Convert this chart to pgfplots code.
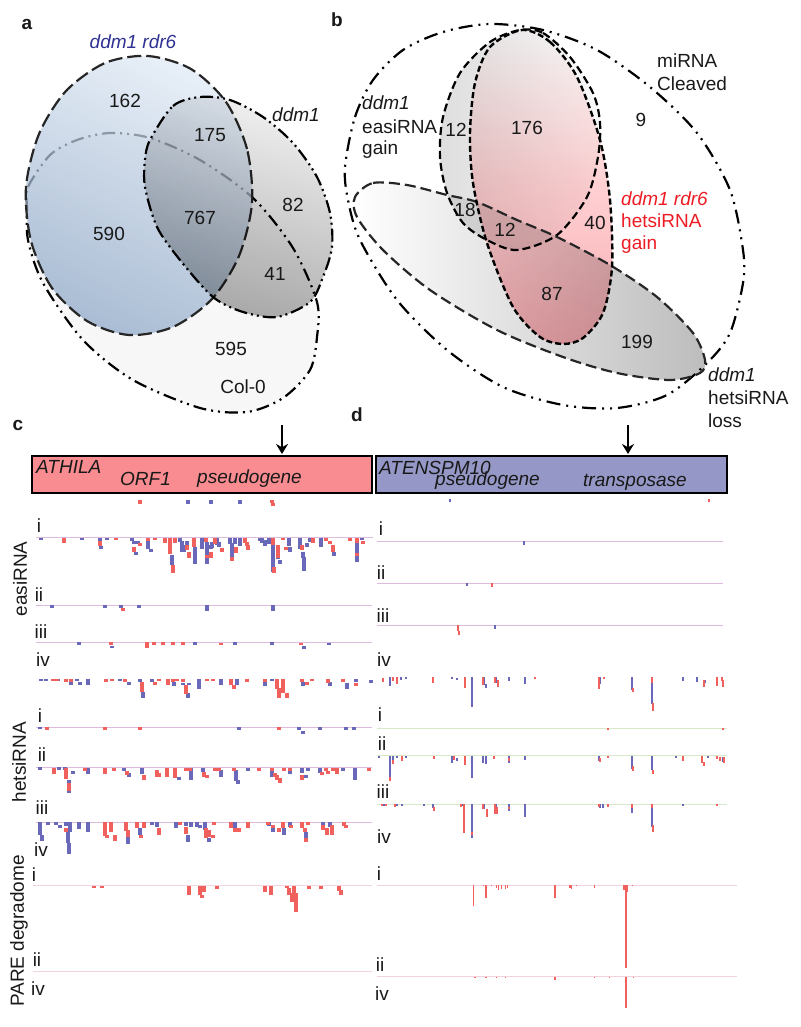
\documentclass[border=0pt]{standalone}
\usepackage{fontspec}
\setmainfont{Liberation Sans}
\usepackage{pgfplots}
\usepackage{pgfplotstable}
\pgfplotsset{compat=1.18}
\usetikzlibrary{arrows.meta}

\definecolor{rb}{HTML}{6A68B8}
\definecolor{rr}{HTML}{F0605C}
\definecolor{paleline}{HTML}{DDBBDD}
\definecolor{palegreen}{HTML}{D8E8C8}
\definecolor{palepink}{HTML}{F2D4DE}

% outlines of the venn shapes, in pixels of the figure
\pgfplotstableread{
x y
252 203
247 149
226 102
191 69
148 56
105 63
66 91
39 134
26 187
31 241
52 288
87 321
129 335
173 327
212 299
239 256
}\ellblue
\pgfplotstableread{
x y
150 140
173 106
200 97
230 100
263 117
293 143
317 177
330 213
332 247
323 277
310 302
277 317
243 312
213 297
180 260
157 227
145 187
145 160
}\ellgray
\pgfplotstableread{
x y
27 207
28 187
50 155
77 140
110 133
150 138
200 160
253 198
293 248
317 302
317 337
310 370
283 398
247 412
200 408
133 380
83 340
43 283
28 240
}\ellcol
\pgfplotstableread{
x y
345 167
355 117
373 80
403 50
443 32
490 24
543 30
597 50
650 87
697 133
730 190
743 250
743 283
730 333
707 363
667 395
617 408
563 405
503 387
447 350
397 300
360 240
348 200
}\ellmir
\pgfplotstableread{
x y
520 30
543 33
570 57
593 93
600 123
598 157
587 197
557 235
517 250
487 240
463 223
447 193
440 157
443 117
460 73
490 42
}\elleasi
\pgfplotstableread{
x y
522 30
550 42
577 77
600 140
610 200
612 267
603 313
583 338
563 344
540 337
513 307
487 243
473 183
470 133
475 83
490 47
}\ellhets
\pgfplotstableread{
x y
355 197
373 183
407 185
447 195
477 202
517 220
557 237
610 265
657 297
693 333
705 360
700 373
670 380
617 373
563 357
497 330
430 290
383 250
357 217
}\ellloss

% reads: colour, width, crop x, crop y, rows of x y length as read in a 3x crop
\newcommand{\reads}[5]{\addplot[draw=none, no markers, forget plot,
  error bars/.cd, y dir=plus, y explicit, error mark=none,
  error bar style={solid, line width=#2pt, draw=#1}]
  table[header=false, row sep=\\, x expr=#3+\thisrowno{0}/3, y expr=#4+\thisrowno{1}/3,
  y error expr=\thisrowno{2}/3]{#5};}
\newcommand{\track}[4]{\addplot[forget plot, color=#1, line width=0.9pt] coordinates {(#2,#4) (#3,#4)};}
\newcommand{\fs}{\fontsize{19}{22}\selectfont}

\begin{document}
\begin{tikzpicture}[every node/.style={font=\fs, text=black!90, inner sep=0pt}]
\begin{axis}[
  hide axis, x=1pt, y=1pt, y dir=reverse,
  xmin=0, xmax=800, ymin=0, ymax=1027,
  clip=false,
]

% panel a
\addplot[forget plot, smooth cycle, draw=none, fill=black!3] table {\ellcol};
\addplot[forget plot, smooth cycle, draw=black, line width=2.2pt,
  dash pattern=on 13pt off 5pt on 2pt off 5pt on 2pt off 5pt] table {\ellcol};
\addplot[forget plot, smooth cycle, draw=none, fill opacity=0.72,
  top color={rgb,255:red,222;green,232;blue,244}, bottom color={rgb,255:red,142;green,168;blue,200}, shading angle=-25] table {\ellblue};
\addplot[forget plot, smooth cycle, draw=black!85!white, line width=2.2pt, dash pattern=on 14pt off 5pt] table {\ellblue};
\addplot[forget plot, smooth cycle, draw=none, blend mode=multiply,
  top color=black!6, bottom color=black!32, shading angle=-15] table {\ellgray};
\addplot[forget plot, smooth cycle, draw=black, line width=2.2pt,
  dash pattern=on 13pt off 4pt on 2pt off 4pt on 2pt off 4pt] table {\ellgray};

\node[font=\fs\bfseries] at (axis cs:27,24) {a};
\node[font=\fs\itshape, text={rgb,255:red,46;green,49;blue,146}] at (axis cs:133,42) {ddm1 rdr6};
\node[font=\fs\itshape] at (axis cs:296,115) {ddm1};
\node at (axis cs:125,101) {162};
\node at (axis cs:210,135) {175};
\node at (axis cs:293,205) {82};
\node at (axis cs:200,218) {767};
\node at (axis cs:109,234) {590};
\node at (axis cs:275,274) {41};
\node at (axis cs:231,349) {595};
\node at (axis cs:243,387) {Col-0};

% panel b
\addplot[forget plot, smooth cycle, draw=black, line width=2.2pt,
  dash pattern=on 14pt off 6pt on 2pt off 6pt on 2pt off 6pt] table {\ellmir};
\addplot[forget plot, smooth cycle, draw=none, left color=black!13, right color=black!2] table {\elleasi};
\addplot[forget plot, smooth cycle, draw=black, line width=2.2pt, dash pattern=on 8pt off 4pt] table {\elleasi};
\addplot[forget plot, smooth cycle, draw=none, blend mode=multiply,
  left color=white, right color=black!26] table {\ellloss};
\addplot[forget plot, smooth cycle, draw=none, blend mode=multiply,
  top color=white, bottom color={rgb,255:red,248;green,172;blue,178},
  middle color={rgb,255:red,255;green,208;blue,210}] table {\ellhets};
\addplot[forget plot, smooth cycle, draw=black!85, line width=2.2pt, dash pattern=on 11pt off 5pt] table {\ellloss};
\addplot[forget plot, smooth cycle, draw=black, line width=2.4pt, dash pattern=on 6pt off 3pt] table {\ellhets};

\node[font=\fs\bfseries] at (axis cs:337,20) {b};
\node at (axis cs:527,128) {176};
\node at (axis cs:641,120) {9};
\node at (axis cs:456,130) {12};
\node at (axis cs:465,210) {18};
\node at (axis cs:505,230) {12};
\node at (axis cs:595,223) {40};
\node at (axis cs:552,294) {87};
\node at (axis cs:637,342) {199};
\node[anchor=west] at (axis cs:657,61) {miRNA};
\node[anchor=west] at (axis cs:657,84) {Cleaved};
\node[anchor=west, font=\fs\itshape] at (axis cs:362,103) {ddm1};
\node[anchor=west] at (axis cs:362,127) {easiRNA};
\node[anchor=west] at (axis cs:362,150) {gain};
\node[anchor=west, font=\fs\itshape, text={rgb,255:red,237;green,28;blue,36}] at (axis cs:621,199) {ddm1 rdr6};
\node[anchor=west, text={rgb,255:red,237;green,28;blue,36}] at (axis cs:621,221) {hetsiRNA};
\node[anchor=west, text={rgb,255:red,237;green,28;blue,36}] at (axis cs:621,245) {gain};
\node[anchor=west, font=\fs\itshape] at (axis cs:708,375) {ddm1};
\node[anchor=west] at (axis cs:708,398) {hetsiRNA};
\node[anchor=west] at (axis cs:708,421) {loss};

% gene boxes
\node[font=\fs\bfseries] at (axis cs:18,425) {c};
\node[font=\fs\bfseries] at (axis cs:357,415) {d};
\addplot[forget plot, draw=black, line width=2.6pt, fill={rgb,255:red,248;green,140;blue,144}]
  coordinates {(32,456) (372,456) (372,493) (32,493)} --cycle;
\addplot[forget plot, draw=black, line width=2.6pt, fill={rgb,255:red,149;green,152;blue,198}]
  coordinates {(376,456) (727,456) (727,493) (376,493)} --cycle;
\addplot[forget plot, draw=black, line width=2pt, -{Stealth[length=10pt,width=12pt]}] coordinates {(282,425) (282,454)};
\addplot[forget plot, draw=black, line width=2pt, -{Stealth[length=10pt,width=12pt]}] coordinates {(628,425) (628,454)};
\node[anchor=west, font=\fs\itshape] at (axis cs:36,467) {ATHILA};
\node[anchor=west, font=\fs\itshape] at (axis cs:120,479) {ORF1};
\node[anchor=west, font=\fs\itshape] at (axis cs:197,479) {pseudogene};
\node[anchor=west, font=\fs\itshape] at (axis cs:379,468) {ATENSPM10};
\node[anchor=west, font=\fs\itshape] at (axis cs:435,481) {pseudogene};
\node[anchor=west, font=\fs\itshape] at (axis cs:583,482) {transposase};

% baselines
\track{paleline}{36}{373}{537.7}
\track{paleline}{36}{372}{605.7}
\track{paleline}{36}{372}{642.3}
\track{paleline}{36}{372}{727.7}
\track{paleline}{36}{372}{767.7}
\track{paleline}{36}{372}{822.3}
\track{palepink}{33}{372}{885.7}
\track{palepink}{33}{372}{971.7}
\track{paleline}{377}{723}{541.7}
\track{paleline}{377}{723}{583.3}
\track{paleline}{377}{723}{625.3}
\track{palegreen}{377}{727}{728}
\track{palegreen}{377}{727}{755.7}
\track{palegreen}{377}{727}{804.3}
\track{palepink}{377}{737}{885}
\track{palepink}{377}{737}{976.7}

% panel c, easiRNA
\reads{rb}{3.7}{0}{430}{
565 211 10\\ 632 211 10\\ 719 211 10\\
124 323 8\\ 246 323 8\\ 299 323 10\\ 303 349 8\\ 320 323 8\\
395 323 10\\ 403 333 8\\ 409 366 9\\ 413 333 8\\ 444 332 26\\ 452 358 8\\
516 375 30\\ 539 323 12\\ 547 333 32\\ 553 345 22\\ 561 333 12\\
585 350 53\\ 607 323 35\\ 621 335 68\\ 632 345 12\\ 637 335 20\\ 650 323 22\\ 658 335 16\\
689 323 20\\ 697 340 45\\ 705 323 18\\ 719 323 25\\
779 323 10\\ 787 323 15\\ 795 330 18\\ 808 323 20\\ 819 345 82\\ 835 375 12\\ 841 390 12\\
866 323 25\\ 870 352 15\\ 901 323 35\\ 908 365 20\\ 912 380 42\\ 921 340 10\\ 931 323 12\\
963 323 28\\ 1003 365 12\\ 1072 340 55\\ 1086 323 8\\
157 525 8\\ 315 525 8\\ 362 525 8\\ 417 525 8\\ 621 525 18\\ 819 525 18\\
237 637 8\\ 337 647 8\\ 584 637 8\\ 704 637 8\\ 816 637 8\\ 913 648 8\\ 987 638 8\\
}
\reads{rr}{3.7}{0}{430}{
419 211 10\\ 815 211 9\\ 820 220 9\\
192 323 16\\ 299 333 16\\ 349 323 8\\ 403 350 15\\ 420 340 9\\ 444 323 9\\ 464 323 8\\
494 323 17\\ 510 323 50\\ 520 405 23\\ 525 323 17\\ 561 345 15\\ 568 365 20\\ 581 323 27\\
619 323 12\\ 621 375 10\\ 632 365 20\\ 646 323 18\\ 665 355 12\\ 697 380 14\\ 708 350 18\\
735 323 15\\ 740 335 12\\ 745 345 14\\ 819 323 22\\ 821 412 18\\ 835 345 40\\ 849 323 8\\ 858 350 10\\
905 345 15\\ 938 323 16\\ 979 323 9\\ 990 333 8\\ 1000 345 20\\ 1050 323 9\\ 1072 323 17\\ 1072 370 8\\ 1089 333 8\\
368 535 8\\
332 637 9\\ 442 637 17\\ 463 637 8\\ 489 637 8\\ 518 637 8\\ 548 637 8\\ 662 638 8\\ 902 638 8\\
}

% panel c, hetsiRNA
\reads{rb}{3.7}{0}{660}{
122 56 8\\ 138 56 8\\ 175 56 8\\ 212 65 10\\ 230 56 8\\ 241 67 8\\ 264 56 20\\ 360 56 8\\ 388 67 8\\
419 56 10\\ 428 95 20\\ 456 56 10\\ 521 65 12\\ 548 68 8\\ 566 68 8\\ 563 100 15\\ 597 56 30\\ 663 56 20\\
711 56 20\\ 796 65 12\\ 817 56 8\\ 908 65 12\\ 990 67 10\\ 1040 68 20\\ 1068 56 10\\ 1112 60 8\\
119 200 8\\ 716 202 9\\ 898 202 9\\ 908 212 9\\ 960 202 9\\ 1038 202 9\\ 1063 202 9\\
119 321 9\\ 177 321 9\\ 195 321 10\\ 207 360 12\\ 218 333 9\\ 207 390 10\\ 263 325 16\\ 373 323 9\\ 386 340 10\\
426 323 20\\ 526 323 20\\ 538 350 10\\ 574 323 38\\ 610 323 12\\ 664 330 22\\ 707 330 32\\ 714 360 12\\ 745 323 9\\
817 330 20\\ 869 333 9\\ 905 323 15\\ 918 345 9\\ 925 323 9\\ 960 323 15\\ 1030 323 9\\ 1065 323 38\\
119 487 38\\ 125 525 18\\ 144 487 8\\ 168 487 8\\ 180 495 8\\ 197 487 10\\ 211 487 28\\ 203 515 35\\ 208 550 32\\
238 487 20\\ 263 487 28\\ 385 530 22\\ 420 505 20\\ 455 487 9\\ 470 487 15\\ 527 487 18\\ 558 487 12\\ 573 487 14\\
590 487 14\\ 600 495 8\\ 614 487 22\\ 628 535 10\\ 563 525 20\\ 706 487 20\\ 808 487 10\\ 818 505 10\\ 852 505 20\\
870 487 15\\ 917 515 32\\ 970 487 15\\ 990 487 15\\
}
\reads{rr}{3.7}{0}{660}{
160 56 8\\ 170 56 8\\ 197 56 10\\ 212 56 10\\ 319 56 10\\ 337 56 8\\ 376 56 10\\ 425 66 30\\ 465 66 10\\ 477 56 8\\
503 56 20\\ 520 56 10\\ 532 56 8\\ 548 56 10\\ 558 76 25\\ 620 56 8\\ 640 56 8\\ 692 56 18\\ 703 75 12\\ 740 56 10\\
795 56 10\\ 830 56 30\\ 837 85 30\\ 850 56 42\\ 860 100 15\\ 905 56 10\\ 922 65 10\\ 935 56 8\\ 983 56 12\\ 1030 56 10\\ 1068 68 10\\
142 200 9\\ 316 200 9\\ 420 200 9\\ 836 202 9\\
161 323 18\\ 199 323 35\\ 208 370 22\\ 254 323 9\\ 316 323 18\\ 341 323 9\\ 382 333 12\\ 431 345 15\\ 472 330 20\\ 478 340 12\\
500 325 25\\ 526 323 30\\ 557 323 9\\ 570 323 9\\ 612 335 15\\ 620 345 8\\ 645 323 9\\ 657 323 9\\ 703 323 10\\ 777 323 9\\
817 323 10\\ 825 340 12\\ 832 345 15\\ 840 355 15\\ 851 323 9\\ 869 323 10\\ 905 345 15\\ 967 335 9\\ 978 323 9\\ 984 333 10\\
998 323 9\\ 1012 323 20\\ 1107 323 9\\
198 505 10\\ 316 487 42\\ 320 525 8\\ 334 487 30\\ 344 525 18\\ 378 487 25\\ 385 510 20\\ 412 487 18\\ 423 525 8\\ 431 487 18\\
476 505 20\\ 541 487 8\\ 558 500 22\\ 618 505 28\\ 628 510 22\\ 638 525 10\\ 641 487 8\\ 692 487 18\\ 706 505 10\\ 716 505 10\\
745 487 18\\ 805 487 8\\ 818 495 10\\ 838 505 10\\ 848 487 18\\ 873 495 10\\ 906 487 18\\ 915 505 10\\ 917 535 10\\ 924 487 8\\
970 495 15\\ 982 505 20\\ 995 495 30\\ 1032 487 12\\ 1038 495 10\\
}

% panel c, PARE
\reads{rr}{3.7}{0}{850}{
281 107 8\\ 306 107 8\\ 567 107 28\\ 600 107 28\\ 606 135 10\\ 613 107 20\\ 651 107 10\\ 794 107 20\\ 812 107 28\\
862 107 8\\ 868 115 20\\ 875 130 25\\ 883 107 25\\ 887 130 56\\ 927 107 10\\ 963 107 10\\ 1018 107 15\\ 1022 120 15\\
}

% panel d, easiRNA
\reads{rb}{1.9}{370}{430}{
239 207 10\\ 462 334 10\\ 291 459 10\\ 376 586 10\\
}
\reads{rr}{1.9}{370}{430}{
1018 207 10\\ 366 460 10\\ 265 586 18\\ 268 604 10\\
}

% panel d, hetsiRNA
\reads{rb}{1.9}{370}{660}{
60 52 25\\ 94 52 8\\ 107 52 5\\ 246 52 5\\ 261 55 6\\ 306 52 90\\ 341 52 22\\ 347 72 12\\ 378 52 18\\ 416 52 12\\ 466 52 20\\
691 52 20\\ 785 52 38\\ 845 70 62\\ 940 52 12\\ 980 52 15\\ 1005 60 10\\
28 288 5\\ 60 288 65\\ 68 288 25\\ 82 288 5\\ 97 288 12\\ 107 288 5\\ 245 288 20\\ 262 295 8\\ 306 288 65\\ 338 288 20\\ 347 288 24\\
416 288 20\\ 466 288 12\\ 687 288 16\\ 785 288 40\\ 845 288 42\\ 917 288 5\\ 1015 288 5\\ 1058 290 15\\
42 433 5\\ 80 433 5\\ 96 433 5\\ 163 433 5\\ 189 433 10\\ 306 433 100\\ 278 433 5\\ 341 433 15\\ 378 433 20\\ 416 433 20\\ 466 433 38\\
690 433 10\\ 700 433 10\\ 785 433 25\\ 845 445 55\\ 940 433 5\\
}
\reads{rr}{1.9}{370}{660}{
40 55 12\\ 68 52 12\\ 80 52 20\\ 190 52 16\\ 284 52 32\\ 338 52 22\\ 376 52 18\\ 384 60 20\\ 495 52 5\\ 687 52 34\\ 701 52 5\\
788 85 10\\ 845 52 18\\ 849 130 24\\ 1003 60 20\\ 1040 52 26\\ 1056 52 10\\ 1060 60 20\\
713 204 5\\ 1060 204 5\\
60 352 12\\ 70 300 12\\ 95 288 14\\ 192 288 8\\ 252 288 12\\ 284 288 27\\ 372 288 10\\ 416 295 8\\ 690 295 12\\ 713 288 5\\ 788 318 14\\
849 330 12\\ 940 288 14\\ 997 288 20\\ 1003 305 14\\ 1040 288 8\\ 1050 290 14\\ 1062 290 18\\
37 433 5\\ 48 433 5\\ 75 433 7\\ 192 440 14\\ 272 433 8\\ 283 433 85\\ 306 515 10\\ 338 433 15\\ 350 448 22\\ 374 433 28\\ 382 440 22\\
416 440 8\\ 686 433 8\\ 713 433 8\\ 785 433 10\\ 845 433 12\\ 849 495 22\\ 1040 433 5\\
}

% panel d, PARE
\reads{rr}{1.5}{370}{850}{
348 105 40\\ 310 105 62\\ 555 105 40\\ 768 105 250\\ 766 105 40\\ 762 105 15\\ 772 105 20\\ 380 105 10\\ 386 105 15\\ 395 105 12\\
407 105 12\\ 413 105 10\\ 600 105 10\\ 604 105 12\\ 620 105 4\\ 673 105 8\\ 787 105 4\\ 340 105 4\\ 365 105 4\\
768 380 95\\ 555 380 10\\ 380 380 4\\ 315 380 3\\ 348 380 3\\ 406 380 3\\ 673 380 3\\ 718 380 3\\ 790 380 3\\
}

% row labels
\node at (axis cs:39,526) {i};
\node at (axis cs:39,595) {ii};
\node at (axis cs:41,632) {iii};
\node at (axis cs:43,660) {iv};
\node at (axis cs:40,716) {i};
\node at (axis cs:42,755) {ii};
\node at (axis cs:42,808) {iii};
\node at (axis cs:41,850) {iv};
\node at (axis cs:34,875) {i};
\node at (axis cs:37,960) {ii};
\node at (axis cs:38,989) {iv};
\node at (axis cs:381,529) {i};
\node at (axis cs:381,573) {ii};
\node at (axis cs:383,616) {iii};
\node at (axis cs:384,660) {iv};
\node at (axis cs:380,715) {i};
\node at (axis cs:382,744) {ii};
\node at (axis cs:383,792) {iii};
\node at (axis cs:384,837) {iv};
\node at (axis cs:379,874) {i};
\node at (axis cs:380,965) {ii};
\node at (axis cs:382,994) {iv};
\node[rotate=90] at (axis cs:20,579) {easiRNA};
\node[rotate=90] at (axis cs:19,762) {hetsiRNA};
\node[rotate=90] at (axis cs:19,931) {PARE degradome};
\end{axis}
\pgfresetboundingbox
\path[use as bounding box] (current axis.south west) rectangle (current axis.north east);
\end{tikzpicture}
\end{document}
